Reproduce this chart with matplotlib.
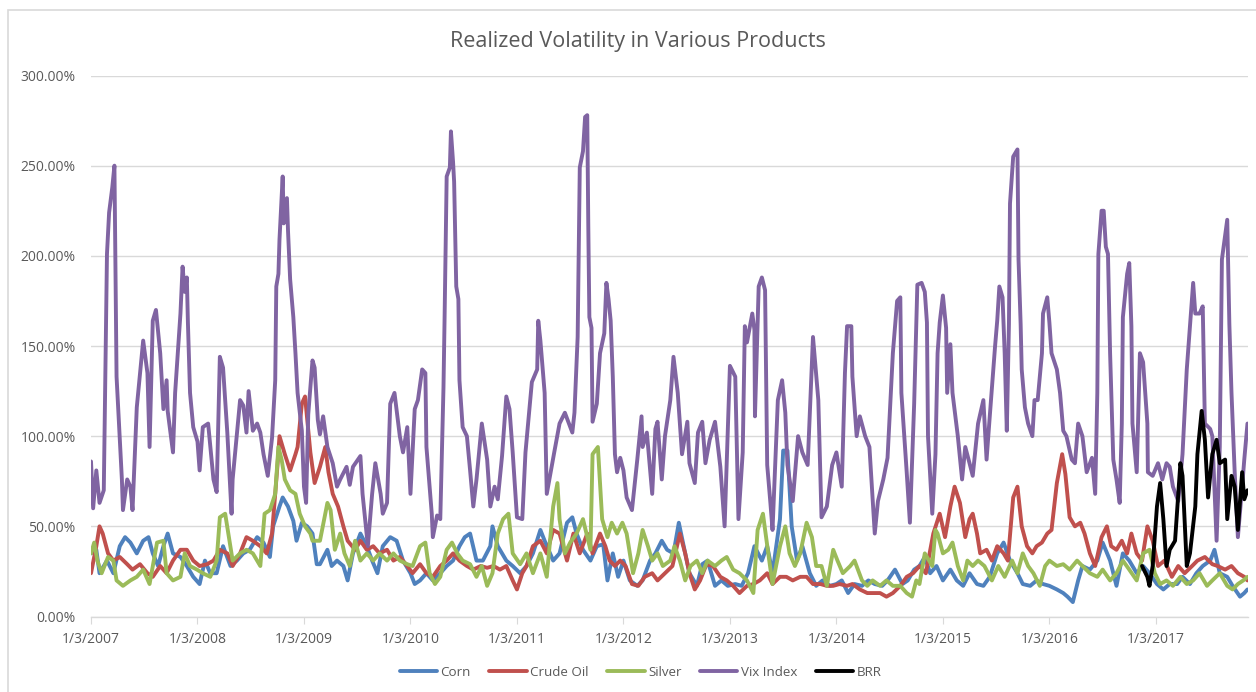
import matplotlib
matplotlib.use("Agg")
import matplotlib.pyplot as plt
from matplotlib.patches import Rectangle

# time is in decimal years, values in percent
vix_t = [2007.00, 2007.02, 2007.05, 2007.08, 2007.12, 2007.15, 2007.17, 2007.20, 2007.22, 2007.24,
         2007.29, 2007.30, 2007.34, 2007.37, 2007.39, 2007.43, 2007.49, 2007.53, 2007.55, 2007.58,
         2007.61, 2007.65, 2007.68, 2007.71, 2007.72, 2007.77, 2007.79, 2007.84, 2007.86, 2007.88,
         2007.90, 2007.91, 2007.93, 2007.96, 2008.00, 2008.02, 2008.05, 2008.10, 2008.15, 2008.18,
         2008.21, 2008.24, 2008.28, 2008.31, 2008.32, 2008.33, 2008.40, 2008.43, 2008.46, 2008.48,
         2008.52, 2008.56, 2008.59, 2008.62, 2008.66, 2008.70, 2008.73, 2008.74, 2008.76, 2008.77,
         2008.80, 2008.81, 2008.84, 2008.85, 2008.87, 2008.90, 2008.92, 2008.94, 2008.98, 2009.00,
         2009.02, 2009.04, 2009.08, 2009.10, 2009.13, 2009.15, 2009.18, 2009.22, 2009.27, 2009.31,
         2009.34, 2009.40, 2009.43, 2009.46, 2009.53, 2009.55, 2009.60, 2009.64, 2009.67, 2009.72,
         2009.74, 2009.78, 2009.81, 2009.85, 2009.90, 2009.93, 2009.97, 2010.00, 2010.04, 2010.07,
         2010.11, 2010.14, 2010.15, 2010.20, 2010.21, 2010.25, 2010.28, 2010.31, 2010.32, 2010.34,
         2010.37, 2010.38, 2010.40, 2010.41, 2010.43, 2010.45, 2010.46, 2010.49, 2010.53, 2010.56,
         2010.59, 2010.62, 2010.67, 2010.72, 2010.75, 2010.79, 2010.82, 2010.86, 2010.90, 2010.93,
         2010.96, 2011.00, 2011.05, 2011.08, 2011.10, 2011.14, 2011.19, 2011.20, 2011.22, 2011.26,
         2011.28, 2011.31, 2011.35, 2011.40, 2011.45, 2011.52, 2011.54, 2011.57, 2011.59, 2011.62,
         2011.64, 2011.66, 2011.67, 2011.68, 2011.70, 2011.71, 2011.75, 2011.78, 2011.82, 2011.84,
         2011.86, 2011.88, 2011.90, 2011.92, 2011.94, 2011.97, 2012.00, 2012.03, 2012.08, 2012.13,
         2012.17, 2012.18, 2012.22, 2012.27, 2012.30, 2012.32, 2012.36, 2012.39, 2012.44, 2012.47,
         2012.51, 2012.55, 2012.60, 2012.62, 2012.67, 2012.70, 2012.74, 2012.77, 2012.81, 2012.86,
         2012.91, 2012.95, 2013.00, 2013.05, 2013.08, 2013.12, 2013.14, 2013.16, 2013.21, 2013.23,
         2013.235, 2013.27, 2013.30, 2013.33, 2013.35, 2013.38, 2013.40, 2013.45, 2013.49, 2013.52,
         2013.54, 2013.59, 2013.64, 2013.68, 2013.73, 2013.76, 2013.78, 2013.83, 2013.86, 2013.91,
         2013.96, 2014.00, 2014.05, 2014.08, 2014.10, 2014.14, 2014.15, 2014.19, 2014.22, 2014.27,
         2014.31, 2014.36, 2014.39, 2014.44, 2014.48, 2014.53, 2014.57, 2014.60, 2014.61, 2014.66,
         2014.69, 2014.73, 2014.76, 2014.80, 2014.83, 2014.85, 2014.86, 2014.90, 2014.93, 2014.95,
         2014.97, 2015.00, 2015.03, 2015.04, 2015.07, 2015.09, 2015.14, 2015.18, 2015.21, 2015.25,
         2015.28, 2015.33, 2015.38, 2015.41, 2015.44, 2015.49, 2015.51, 2015.53, 2015.56, 2015.58,
         2015.60, 2015.62, 2015.63, 2015.66, 2015.70, 2015.71, 2015.73, 2015.74, 2015.77, 2015.80,
         2015.84, 2015.86, 2015.89, 2015.93, 2015.94, 2015.98, 2016.00, 2016.02, 2016.07, 2016.10,
         2016.13, 2016.16, 2016.21, 2016.24, 2016.27, 2016.31, 2016.35, 2016.40, 2016.43, 2016.45,
         2016.46, 2016.49, 2016.51, 2016.53, 2016.55, 2016.57, 2016.60, 2016.63, 2016.66, 2016.68,
         2016.69, 2016.73, 2016.75, 2016.77, 2016.78, 2016.82, 2016.85, 2016.88, 2016.92, 2016.925,
         2016.97, 2017.02, 2017.06, 2017.10, 2017.13, 2017.16, 2017.21, 2017.25, 2017.29, 2017.35,
         2017.37, 2017.41, 2017.44, 2017.46, 2017.51, 2017.53, 2017.57, 2017.60, 2017.62, 2017.65,
         2017.67, 2017.69, 2017.71, 2017.74, 2017.77, 2017.81, 2017.83, 2017.86]
vix_v = [86, 60, 81, 63, 70, 201, 224, 238, 250, 133,
         76, 59, 76, 72, 59, 116, 153, 135, 94, 164,
         170, 146, 115, 131, 114, 91, 124, 168, 194, 180,
         188, 163, 124, 105, 97, 81, 105, 107, 76, 69,
         144, 138, 102, 68, 57, 76, 120, 117, 102, 125,
         103, 107, 102, 90, 78, 99, 131, 183, 190, 209,
         244, 218, 232, 214, 187, 166, 146, 124, 103, 72,
         63, 112, 142, 138, 109, 101, 111, 94, 85, 72,
         76, 83, 73, 83, 89, 68, 39, 68, 85, 68,
         57, 63, 118, 124, 100, 91, 105, 68, 115, 120,
         137, 135, 94, 57, 44, 56, 54, 127, 164, 244,
         249, 269, 252, 241, 183, 176, 131, 105, 100, 81,
         61, 76, 107, 87, 61, 72, 65, 89, 122, 115,
         91, 55, 54, 91, 104, 130, 137, 164, 153, 124,
         68, 78, 91, 107, 113, 102, 113, 155, 249, 258,
         277, 278, 216, 166, 160, 108, 118, 146, 157, 185,
         176, 164, 133, 90, 80, 88, 81, 66, 59, 87,
         111, 94, 102, 68, 104, 108, 76, 100, 120, 144,
         124, 90, 108, 85, 74, 102, 108, 85, 98, 108,
         83, 50, 139, 133, 54, 91, 161, 152, 168, 159,
         111, 183, 188, 181, 84, 63, 48, 120, 131, 113,
         84, 64, 100, 91, 84, 127, 155, 120, 55, 61,
         84, 91, 72, 135, 161, 161, 133, 100, 111, 100,
         94, 46, 64, 76, 88, 146, 175, 177, 124, 80,
         52, 118, 184, 185, 180, 163, 100, 57, 90, 146,
         163, 178, 160, 124, 151, 124, 100, 76, 94, 85,
         78, 107, 120, 87, 111, 150, 164, 183, 177, 146,
         103, 162, 229, 255, 259, 198, 162, 137, 116, 107,
         100, 120, 120, 146, 168, 177, 163, 146, 137, 124,
         103, 100, 87, 85, 107, 100, 80, 88, 68, 124,
         201, 225, 225, 205, 201, 146, 87, 76, 63, 107,
         166, 190, 196, 161, 107, 80, 146, 141, 107, 80,
         78, 85, 76, 85, 83, 72, 64, 90, 137, 185,
         168, 168, 172, 107, 104, 100, 42, 94, 198, 211,
         220, 162, 124, 80, 44, 72, 87, 107]

corn_t = [2007.00, 2007.05, 2007.08, 2007.15, 2007.21, 2007.27, 2007.32, 2007.37, 2007.43, 2007.49,
          2007.54, 2007.58, 2007.63, 2007.68, 2007.72, 2007.77, 2007.84, 2007.90, 2007.96, 2008.02,
          2008.07, 2008.12, 2008.18, 2008.24, 2008.31, 2008.37, 2008.43, 2008.49, 2008.56, 2008.62,
          2008.68, 2008.71, 2008.77, 2008.80, 2008.85, 2008.90, 2008.93, 2008.98, 2009.03, 2009.08,
          2009.12, 2009.15, 2009.22, 2009.26, 2009.31, 2009.37, 2009.41, 2009.46, 2009.53, 2009.59,
          2009.64, 2009.69, 2009.74, 2009.81, 2009.87, 2009.93, 2010.00, 2010.04, 2010.09, 2010.15,
          2010.21, 2010.28, 2010.34, 2010.40, 2010.46, 2010.51, 2010.56, 2010.62, 2010.68, 2010.75,
          2010.77, 2010.82, 2010.90, 2010.96, 2011.03, 2011.09, 2011.15, 2011.22, 2011.26, 2011.34,
          2011.40, 2011.47, 2011.52, 2011.56, 2011.62, 2011.69, 2011.75, 2011.81, 2011.85, 2011.90,
          2011.95, 2012.00, 2012.06, 2012.13, 2012.18, 2012.25, 2012.30, 2012.36, 2012.41, 2012.47,
          2012.52, 2012.58, 2012.62, 2012.69, 2012.74, 2012.79, 2012.86, 2012.92, 2012.98, 2013.05,
          2013.11, 2013.17, 2013.23, 2013.30, 2013.35, 2013.40, 2013.47, 2013.50, 2013.54, 2013.58,
          2013.63, 2013.68, 2013.75, 2013.81, 2013.87, 2013.94, 2014.00, 2014.05, 2014.11, 2014.17,
          2014.24, 2014.30, 2014.36, 2014.43, 2014.48, 2014.55, 2014.62, 2014.67, 2014.73, 2014.78,
          2014.83, 2014.88, 2014.94, 2015.00, 2015.07, 2015.13, 2015.19, 2015.25, 2015.32, 2015.38,
          2015.44, 2015.51, 2015.57, 2015.63, 2015.70, 2015.75, 2015.82, 2015.88, 2015.94, 2016.00,
          2016.07, 2016.13, 2016.17, 2016.22, 2016.27, 2016.31, 2016.38, 2016.45, 2016.50, 2016.57,
          2016.63, 2016.69, 2016.75, 2016.82, 2016.88, 2016.94, 2017.01, 2017.07, 2017.13, 2017.20,
          2017.25, 2017.32, 2017.38, 2017.44, 2017.51, 2017.55, 2017.60, 2017.67, 2017.72, 2017.79,
          2017.83, 2017.86]
corn_v = [35, 37, 24, 31, 24, 39, 44, 41, 35, 42,
          44, 35, 28, 39, 46, 35, 33, 28, 22, 18,
          31, 24, 24, 39, 28, 31, 35, 37, 44, 41,
          33, 50, 61, 66, 61, 53, 42, 52, 50, 46,
          29, 29, 37, 28, 31, 28, 20, 35, 46, 39,
          31, 24, 39, 44, 42, 31, 24, 18, 20, 24,
          20, 24, 28, 31, 39, 44, 46, 31, 31, 39,
          50, 39, 31, 28, 24, 28, 35, 48, 42, 31,
          35, 52, 55, 46, 37, 31, 39, 40, 20, 35,
          22, 31, 20, 17, 20, 31, 35, 42, 37, 35,
          52, 35, 24, 17, 29, 31, 17, 20, 17, 18,
          17, 24, 39, 31, 39, 24, 54, 92, 92, 50,
          31, 39, 24, 17, 20, 17, 18, 20, 13, 18,
          17, 20, 18, 17, 20, 26, 18, 20, 26, 28,
          33, 24, 28, 20, 26, 20, 17, 24, 18, 17,
          22, 35, 41, 31, 24, 18, 17, 20, 18, 17,
          15, 13, 11, 8, 20, 28, 26, 31, 41, 31,
          17, 35, 31, 24, 28, 24, 18, 15, 18, 18,
          22, 18, 24, 28, 31, 37, 24, 22, 17, 11,
          13, 15]

crude_t = [2007.00, 2007.05, 2007.08, 2007.11, 2007.16, 2007.21, 2007.27, 2007.34, 2007.39, 2007.46,
           2007.53, 2007.58, 2007.65, 2007.71, 2007.77, 2007.84, 2007.90, 2007.96, 2008.02, 2008.09,
           2008.15, 2008.21, 2008.28, 2008.33, 2008.40, 2008.46, 2008.52, 2008.59, 2008.65, 2008.70,
           2008.75, 2008.77, 2008.82, 2008.87, 2008.92, 2008.94, 2008.98, 2009.01, 2009.06, 2009.10,
           2009.15, 2009.20, 2009.23, 2009.27, 2009.32, 2009.37, 2009.41, 2009.48, 2009.53, 2009.59,
           2009.65, 2009.71, 2009.78, 2009.84, 2009.90, 2009.97, 2010.02, 2010.09, 2010.15, 2010.21,
           2010.28, 2010.34, 2010.40, 2010.46, 2010.53, 2010.59, 2010.66, 2010.72, 2010.78, 2010.84,
           2010.90, 2010.96, 2011.00, 2011.05, 2011.09, 2011.15, 2011.22, 2011.28, 2011.34, 2011.40,
           2011.47, 2011.53, 2011.59, 2011.66, 2011.71, 2011.78, 2011.83, 2011.87, 2011.92, 2011.97,
           2012.02, 2012.08, 2012.14, 2012.20, 2012.27, 2012.32, 2012.39, 2012.46, 2012.53, 2012.58,
           2012.62, 2012.67, 2012.72, 2012.78, 2012.84, 2012.91, 2012.97, 2013.03, 2013.09, 2013.16,
           2013.22, 2013.28, 2013.35, 2013.40, 2013.47, 2013.53, 2013.59, 2013.66, 2013.72, 2013.78,
           2013.85, 2013.91, 2013.97, 2014.03, 2014.10, 2014.15, 2014.22, 2014.29, 2014.34, 2014.41,
           2014.47, 2014.53, 2014.60, 2014.66, 2014.72, 2014.78, 2014.84, 2014.91, 2014.97, 2015.02,
           2015.07, 2015.11, 2015.16, 2015.21, 2015.25, 2015.28, 2015.32, 2015.35, 2015.41, 2015.46,
           2015.51, 2015.57, 2015.61, 2015.66, 2015.70, 2015.74, 2015.79, 2015.84, 2015.88, 2015.93,
           2015.98, 2016.02, 2016.07, 2016.12, 2016.15, 2016.19, 2016.24, 2016.29, 2016.33, 2016.38,
           2016.43, 2016.49, 2016.54, 2016.58, 2016.63, 2016.68, 2016.73, 2016.77, 2016.82, 2016.87,
           2016.92, 2016.97, 2017.02, 2017.08, 2017.15, 2017.21, 2017.27, 2017.34, 2017.39, 2017.46,
           2017.53, 2017.58, 2017.65, 2017.71, 2017.77, 2017.83, 2017.86]
crude_v = [24, 39, 50, 46, 35, 31, 33, 29, 26, 29,
           24, 22, 28, 24, 31, 37, 37, 31, 28, 29,
           31, 37, 35, 28, 35, 44, 42, 39, 35, 46,
           83, 100, 90, 81, 90, 94, 118, 122, 91, 74,
           83, 94, 80, 68, 61, 50, 42, 37, 42, 37,
           39, 35, 37, 31, 33, 28, 24, 29, 24, 22,
           28, 31, 35, 31, 28, 26, 28, 27, 28, 26,
           28, 20, 15, 24, 28, 39, 42, 35, 48, 46,
           31, 46, 35, 46, 35, 46, 39, 31, 28, 31,
           28, 18, 17, 22, 24, 20, 24, 28, 46, 35,
           24, 15, 20, 29, 28, 22, 20, 17, 13, 17,
           18, 20, 24, 18, 22, 22, 20, 22, 22, 18,
           18, 17, 17, 18, 17, 18, 15, 13, 13, 13,
           11, 13, 17, 22, 24, 28, 24, 46, 57, 44,
           61, 72, 63, 44, 54, 57, 46, 35, 37, 31,
           39, 35, 31, 66, 72, 50, 39, 35, 39, 41,
           46, 48, 74, 90, 79, 55, 50, 52, 46, 35,
           28, 44, 50, 39, 37, 42, 35, 46, 35, 31,
           50, 42, 28, 31, 22, 28, 24, 28, 31, 33,
           29, 28, 26, 28, 24, 22, 20]

silver_t = [2007.00, 2007.03, 2007.06, 2007.10, 2007.16, 2007.21, 2007.24, 2007.30, 2007.37, 2007.43,
            2007.49, 2007.55, 2007.62, 2007.68, 2007.71, 2007.77, 2007.84, 2007.88, 2007.93, 2007.995,
            2008.05, 2008.12, 2008.18, 2008.21, 2008.26, 2008.29, 2008.33, 2008.40, 2008.46, 2008.52,
            2008.59, 2008.63, 2008.68, 2008.73, 2008.76, 2008.79, 2008.82, 2008.87, 2008.92, 2008.96,
            2009.01, 2009.06, 2009.08, 2009.15, 2009.22, 2009.25, 2009.29, 2009.34, 2009.38, 2009.43,
            2009.48, 2009.53, 2009.59, 2009.65, 2009.71, 2009.78, 2009.84, 2009.90, 2009.97, 2010.02,
            2010.09, 2010.14, 2010.18, 2010.23, 2010.28, 2010.34, 2010.39, 2010.44, 2010.49, 2010.56,
            2010.62, 2010.67, 2010.72, 2010.77, 2010.82, 2010.87, 2010.92, 2010.96, 2011.03, 2011.09,
            2011.15, 2011.22, 2011.28, 2011.34, 2011.38, 2011.40, 2011.45, 2011.50, 2011.56, 2011.62,
            2011.69, 2011.71, 2011.76, 2011.80, 2011.85, 2011.89, 2011.94, 2011.99, 2012.03, 2012.06,
            2012.09, 2012.14, 2012.18, 2012.23, 2012.27, 2012.32, 2012.37, 2012.44, 2012.48, 2012.53,
            2012.58, 2012.63, 2012.69, 2012.74, 2012.79, 2012.86, 2012.92, 2012.97, 2013.03, 2013.09,
            2013.16, 2013.22, 2013.26, 2013.31, 2013.36, 2013.40, 2013.47, 2013.52, 2013.56, 2013.61,
            2013.66, 2013.72, 2013.77, 2013.81, 2013.86, 2013.91, 2013.97, 2014.01, 2014.06, 2014.13,
            2014.17, 2014.24, 2014.29, 2014.34, 2014.41, 2014.47, 2014.53, 2014.60, 2014.66, 2014.71,
            2014.75, 2014.78, 2014.83, 2014.90, 2014.93, 2014.95, 2015.00, 2015.05, 2015.09, 2015.14,
            2015.19, 2015.23, 2015.28, 2015.33, 2015.39, 2015.46, 2015.52, 2015.58, 2015.65, 2015.70,
            2015.75, 2015.80, 2015.85, 2015.91, 2015.96, 2016.00, 2016.07, 2016.13, 2016.19, 2016.26,
            2016.31, 2016.38, 2016.45, 2016.50, 2016.57, 2016.63, 2016.69, 2016.75, 2016.82, 2016.88,
            2016.94, 2016.99, 2017.04, 2017.10, 2017.16, 2017.23, 2017.29, 2017.35, 2017.41, 2017.48,
            2017.53, 2017.60, 2017.67, 2017.72, 2017.77, 2017.82, 2017.86]
silver_v = [35, 41, 31, 24, 33, 31, 20, 17, 20, 22,
            26, 18, 41, 42, 24, 20, 22, 35, 28, 26,
            24, 22, 31, 55, 57, 46, 31, 35, 37, 35,
            28, 57, 59, 68, 94, 87, 76, 70, 68, 57,
            50, 46, 42, 42, 63, 59, 37, 46, 35, 28,
            42, 31, 35, 31, 35, 31, 35, 31, 29, 28,
            39, 41, 24, 18, 22, 37, 41, 35, 31, 29,
            22, 28, 17, 24, 46, 54, 57, 35, 29, 35,
            24, 35, 22, 61, 74, 54, 35, 41, 46, 54,
            37, 90, 94, 54, 44, 52, 46, 52, 46, 35,
            24, 35, 48, 39, 31, 35, 28, 31, 39, 31,
            20, 28, 31, 24, 31, 28, 31, 33, 26, 24,
            20, 13, 48, 57, 35, 18, 39, 50, 35, 28,
            35, 52, 44, 28, 28, 17, 37, 31, 24, 28,
            31, 20, 17, 20, 17, 20, 17, 17, 13, 11,
            20, 18, 35, 28, 48, 46, 35, 37, 41, 28,
            20, 31, 28, 31, 28, 20, 28, 22, 31, 24,
            35, 28, 24, 17, 28, 31, 28, 29, 26, 31,
            28, 24, 22, 26, 20, 24, 31, 26, 20, 35,
            37, 24, 18, 20, 17, 22, 18, 20, 24, 17,
            20, 24, 17, 15, 18, 20, 22]

brr_t = [2016.87, 2016.92, 2016.94, 2016.97, 2017.01, 2017.04, 2017.07, 2017.10, 2017.13, 2017.18,
         2017.23, 2017.25, 2017.29, 2017.32, 2017.37, 2017.39, 2017.43, 2017.46, 2017.49, 2017.53,
         2017.57, 2017.60, 2017.65, 2017.67, 2017.71, 2017.74, 2017.77, 2017.81, 2017.83, 2017.86]
brr_v = [28, 22, 17, 28, 61, 74, 54, 28, 37, 42,
         85, 78, 28, 35, 61, 90, 114, 98, 66, 90,
         98, 85, 87, 54, 78, 72, 48, 80, 65, 70]

years = list(range(2007, 2018))
year_labels = ["1/3/%d" % y for y in years]

series = [
    ("Corn", corn_t, corn_v, "#4F81BD"),
    ("Crude Oil", crude_t, crude_v, "#C0504D"),
    ("Silver", silver_t, silver_v, "#9BBB59"),
    ("Vix Index", vix_t, vix_v, "#8064A2"),
    ("BRR", brr_t, brr_v, "#000000"),
]

plt.rcParams["font.family"] = ["Open Sans", "DejaVu Sans"]
text_grey = "#595959"
grid_grey = "#D9D9D9"

fig = plt.figure(figsize=(12.56, 6.92), dpi=100)
ax = fig.add_axes([91 / 1256, 1 - 616.5 / 692, (1248 - 91) / 1256, (616.5 - 75.5) / 692])

for name, t, v, col in series:
    ax.plot(t, v, color=col, lw=2.8, label=name, solid_joinstyle="round", solid_capstyle="round")

ax.set_xlim(2007.0, 2017.865)
ax.set_ylim(0, 300)
ax.set_yticks(range(0, 301, 50))
ax.set_yticklabels(["%.2f%%" % y for y in range(0, 301, 50)])
ax.set_xticks(years)
ax.set_xticklabels(year_labels)

ax.grid(axis="y", color=grid_grey, lw=1)
ax.set_axisbelow(True)
for s in ["top", "right", "left"]:
    ax.spines[s].set_visible(False)
ax.spines["bottom"].set_color(grid_grey)
ax.spines["bottom"].set_linewidth(1)
ax.tick_params(axis="y", length=0, pad=11, labelsize=10, labelcolor=text_grey)
ax.tick_params(axis="x", length=5, color=grid_grey, pad=6, labelsize=10, labelcolor=text_grey)

fig.text(0.508, 1 - 42 / 692, "Realized Volatility in Various Products",
         ha="center", va="center", fontsize=15.5, color=text_grey)

fig.legend(loc="center", bbox_to_anchor=(0.51, 1 - 672 / 692), ncol=5, frameon=False,
           fontsize=9.6, labelcolor=text_grey, handlelength=2.8, handletextpad=0.25,
           columnspacing=1.4)

fig.patches.append(Rectangle((8 / 1256, -0.01), 1.1, 1 - 10 / 692 + 0.01, transform=fig.transFigure,
                             fill=False, edgecolor=grid_grey, lw=1.2))

fig.savefig("out.png", dpi=100)
